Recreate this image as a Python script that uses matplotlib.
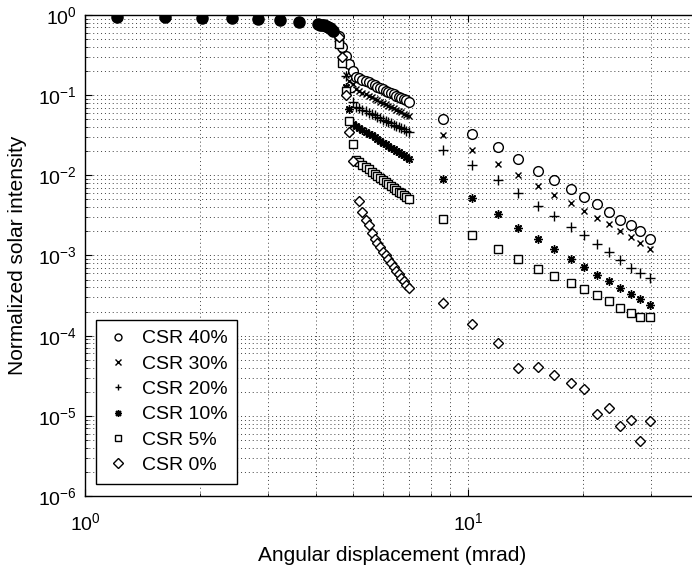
import numpy as np
import matplotlib
matplotlib.use("Agg")
import matplotlib.pyplot as plt
from matplotlib.ticker import LogLocator, NullFormatter

plt.rcParams['font.family'] = ['Liberation Sans', 'DejaVu Sans']
plt.rcParams['mathtext.default'] = 'regular'

# sun disk region (all CSR curves coincide here)
disk_x = [1.21, 1.62, 2.02, 2.42, 2.83, 3.23, 3.62, 4.05, 4.1, 4.15, 4.2, 4.25, 4.3, 4.35, 4.4, 4.45]
disk_y = [0.95, 0.95, 0.92, 0.91, 0.89, 0.87, 0.81, 0.77, 0.76, 0.75, 0.74, 0.72, 0.70, 0.68, 0.66, 0.64]

# near the disk edge (mrad)
near_x = [4.6, 4.7, 4.8, 4.9, 5.0, 5.1, 5.2, 5.3, 5.4, 5.5, 5.6, 5.7, 5.8, 5.9, 6.0,
          6.1, 6.2, 6.3, 6.4, 6.5, 6.6, 6.7, 6.8, 6.9, 7.0]
# outer aureole points (mrad)
far_x = [8.62, 10.22, 11.96, 13.53, 15.20, 16.80, 18.54, 20.09, 21.68, 23.38,
         24.94, 26.65, 28.18, 29.92]

csr40_near = [0.55, 0.40, 0.31, 0.245, 0.20, 0.170, 0.163, 0.156, 0.150, 0.144, 0.138, 0.133,
              0.128, 0.123, 0.118, 0.114, 0.110, 0.106, 0.102, 0.099, 0.096, 0.093, 0.089,
              0.086, 0.083]
csr40_far = [0.0505, 0.0328, 0.0226, 0.0160, 0.01145, 0.00869, 0.00677, 0.00542, 0.00440,
             0.00353, 0.00281, 0.00239, 0.00203, 0.00162]

csr30_near = [0.50, 0.33, 0.178, 0.15, 0.138, 0.118, 0.1126, 0.1076, 0.1028, 0.0984, 0.0942,
              0.0903, 0.0865, 0.0831, 0.0798, 0.0766, 0.0737, 0.0709, 0.0683, 0.0658, 0.0634,
              0.0611, 0.0590, 0.0569, 0.0550]
csr30_far = [0.0319, 0.0207, 0.01387, 0.0101, 0.00738, 0.00570, 0.00449, 0.00363, 0.00297,
             0.00246, 0.00203, 0.00169, 0.00145, 0.00120]

csr20_near = [0.48, 0.30, 0.174, 0.11, 0.083, 0.0720, 0.0689, 0.0660, 0.0632, 0.0606, 0.0582,
              0.0559, 0.0537, 0.0516, 0.0497, 0.0479, 0.0461, 0.0445, 0.0429, 0.0414, 0.0400,
              0.0387, 0.0374, 0.0361, 0.0350]
csr20_far = [0.0207, 0.01359, 0.00869, 0.00608, 0.00415, 0.00315, 0.00229, 0.00181, 0.00138,
             0.00109, 0.000881, 0.000706, 0.000612, 0.000521]

csr10_near = [0.46, 0.26, 0.125, 0.067, 0.0440, 0.0415, 0.0392, 0.0370, 0.0350, 0.0332, 0.0314,
              0.0298, 0.0283, 0.0269, 0.0256, 0.0244, 0.0232, 0.0221, 0.0211, 0.0202, 0.0193,
              0.0184, 0.0177, 0.0169, 0.0162]
csr10_far = [0.00902, 0.00527, 0.00327, 0.00223, 0.00160, 0.00120, 0.000907, 0.000714,
             0.000573, 0.000482, 0.000398, 0.000332, 0.000288, 0.000242]

csr5_near = [0.43, 0.25, 0.114, 0.047, 0.0246, 0.01550, 0.01448, 0.01354, 0.01268, 0.01189,
             0.01116, 0.01049, 0.00987, 0.00930, 0.00876, 0.00827, 0.00781, 0.00738, 0.00699,
             0.00662, 0.00627, 0.00595, 0.00565, 0.00536, 0.00510]
csr5_far = [0.00286, 0.00181, 0.00121, 0.000899, 0.000681, 0.000557, 0.000452, 0.000380,
            0.000323, 0.000274, 0.000224, 0.000191, 0.000173, 0.000173]

csr0_near = [0.53, 0.30, 0.10, 0.035, 0.0149, np.nan, 0.0048, 0.0035, 0.0028, 0.0024, 0.0019,
             0.0016, 0.00142, 0.00126, 0.00112, 0.00100, 0.000898, 0.000804, 0.000722,
             0.000649, 0.000584, 0.000527, 0.000476, 0.000430, 0.000390]
csr0_far = [0.000259, 0.000139, 8.20e-5, 4.00e-5, 4.12e-5, 3.24e-5, 2.60e-5, 2.15e-5,
            1.06e-5, 1.26e-5, 7.50e-6, 8.91e-6, 4.88e-6, 8.73e-6]

labels = ['CSR 40%', 'CSR 30%', 'CSR 20%', 'CSR 10%', 'CSR 5%', 'CSR 0%']
markers = ['o', 'x', '+', (8, 2, 0), 's', 'D']
sizes = [7, 5, 6.5, 6, 6, 5.5]
series = [(csr40_near, csr40_far), (csr30_near, csr30_far), (csr20_near, csr20_far),
          (csr10_near, csr10_far), (csr5_near, csr5_far), (csr0_near, csr0_far)]

fig = plt.figure(figsize=(6.92, 5.70), dpi=100)
ax = fig.add_axes([85 / 692, 74 / 570, 613.6 / 692, 481 / 570])

x_all = near_x + far_x
for (yn, yf), lab, m, s in zip(series, labels, markers, sizes):
    filled = m in ('o', 's', 'D')
    ax.plot(x_all, yn + yf, linestyle='none', marker=m, markersize=s,
            markerfacecolor='white' if filled else 'k', markeredgecolor='k',
            markeredgewidth=1.0, label=lab)

ax.plot(disk_x, disk_y, linestyle='none', marker='o', markersize=8,
        color='k', zorder=5)

ax.set_xscale('log')
ax.set_yscale('log')
ax.set_xlim(1, 40)
ax.set_ylim(1e-6, 1)
ax.yaxis.set_major_locator(LogLocator(base=10, numticks=10))
ax.yaxis.set_minor_locator(LogLocator(base=10, subs=np.arange(2, 10), numticks=20))
ax.yaxis.set_minor_formatter(NullFormatter())
ax.xaxis.set_minor_formatter(NullFormatter())

ax.grid(True, which='both', linestyle=(0, (1, 3)), color='0.25', linewidth=0.7)
ax.tick_params(which='both', direction='in', top=True, right=True, labelsize=14)
ax.tick_params(which='major', length=5, width=0.8)
ax.tick_params(which='minor', length=2.5, width=0.6)
ax.tick_params(axis='x', which='major', pad=12)
ax.tick_params(axis='y', which='major', pad=6)
for sp in ax.spines.values():
    sp.set_linewidth(1.0)

ax.set_xlabel('Angular displacement (mrad)', fontsize=15, labelpad=8)
ax.set_ylabel('Normalized solar intensity', fontsize=15, labelpad=8)

leg = ax.legend(loc='lower left', bbox_to_anchor=(0.018, 0.025), borderaxespad=0,
                fontsize=14, numpoints=1, handlelength=1.3, handletextpad=0.55,
                labelspacing=0.4, borderpad=0.5, fancybox=False, framealpha=1,
                edgecolor='k')
leg.get_frame().set_linewidth(1.0)
for h in leg.legend_handles:
    h.set_markersize(5)

fig.savefig('out.png', dpi=100)
